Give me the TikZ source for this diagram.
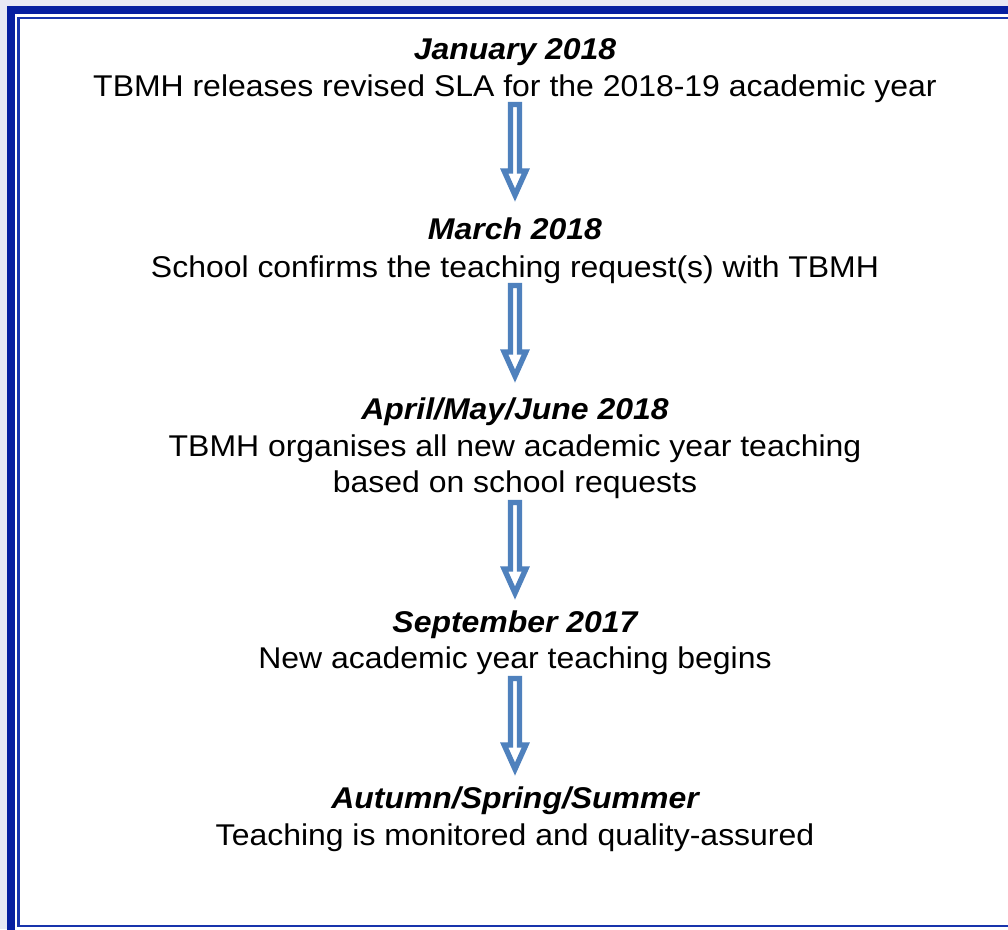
\documentclass[tikz,border=0pt]{standalone}
\usepackage{fontspec}
\setmainfont{Liberation Sans}
\usetikzlibrary{positioning}

\definecolor{pagebg}{RGB}{232,232,244}
\definecolor{framedark}{RGB}{6,30,160}
\definecolor{framethin}{RGB}{24,52,172}
\definecolor{arrowblue}{RGB}{79,129,189}

\tikzset{
  stage/.style={anchor=base, font=\fontsize{30}{37}\selectfont\bfseries\itshape, inner sep=0pt, xscale=1.065},
  stagetext/.style={anchor=base, font=\fontsize{30}{37}\selectfont, inner sep=0pt, xscale=1.065},
  blockarrow/.style={draw=arrowblue, fill=white, line width=5.4pt, line join=miter}
}

% hollow block arrow centred on a named coordinate
\newcommand{\blockarr}[1]{%
  \draw[blockarrow, shift={(#1)}] (-4.5,-45.5) -- (4.5,-45.5) -- (4.5,21) -- (10.8,21)
    -- (0,45) -- (-10.8,21) -- (-4.5,21) -- cycle;}

\begin{document}
\begin{tikzpicture}[x=1pt, y=-1pt]
    % page and double frame
    \useasboundingbox (0,0) rectangle (1008,929);
    \clip (0,0) rectangle (1008,929);
    \fill[pagebg] (0,0) rectangle (1008,929);
    \fill[white] (7,6) rectangle (1030,960);
    \draw[framedark, line width=8pt] (11,10) rectangle (1030,960);
    \draw[framethin, line width=2.7pt] (18.7,18) rectangle (1014,926);

    % stages
    \node[stage] (jan) at (515,59) {January 2018};
    \node[stagetext] (jantext) at (515,96) {TBMH releases revised SLA for the 2018-19 academic year};

    \node[stage] (mar) at (515,239) {March 2018};
    \node[stagetext] (martext) at (515,277) {School confirms the teaching request(s) with TBMH};

    \node[stage] (apr) at (515,419) {April/May/June 2018};
    \node[stagetext] (aprtext) at (515,456) {TBMH organises all new academic year teaching};
    \node[stagetext] (aprtextb) at (515,492) {based on school requests};

    \node[stage] (sep) at (515,632) {September 2017};
    \node[stagetext] (septext) at (515,668) {New academic year teaching begins};

    \node[stage] (aut) at (515,808) {Autumn/Spring/Summer};
    \node[stagetext] (auttext) at (515,845) {Teaching is monitored and quality-assured};

    % arrows between stages
    \coordinate (a1) at (515,150);
    \coordinate (a2) at (515,331);
    \coordinate (a3) at (515,548);
    \coordinate (a4) at (515,724);
    \blockarr{a1}
    \blockarr{a2}
    \blockarr{a3}
    \blockarr{a4}
\end{tikzpicture}
\end{document}
